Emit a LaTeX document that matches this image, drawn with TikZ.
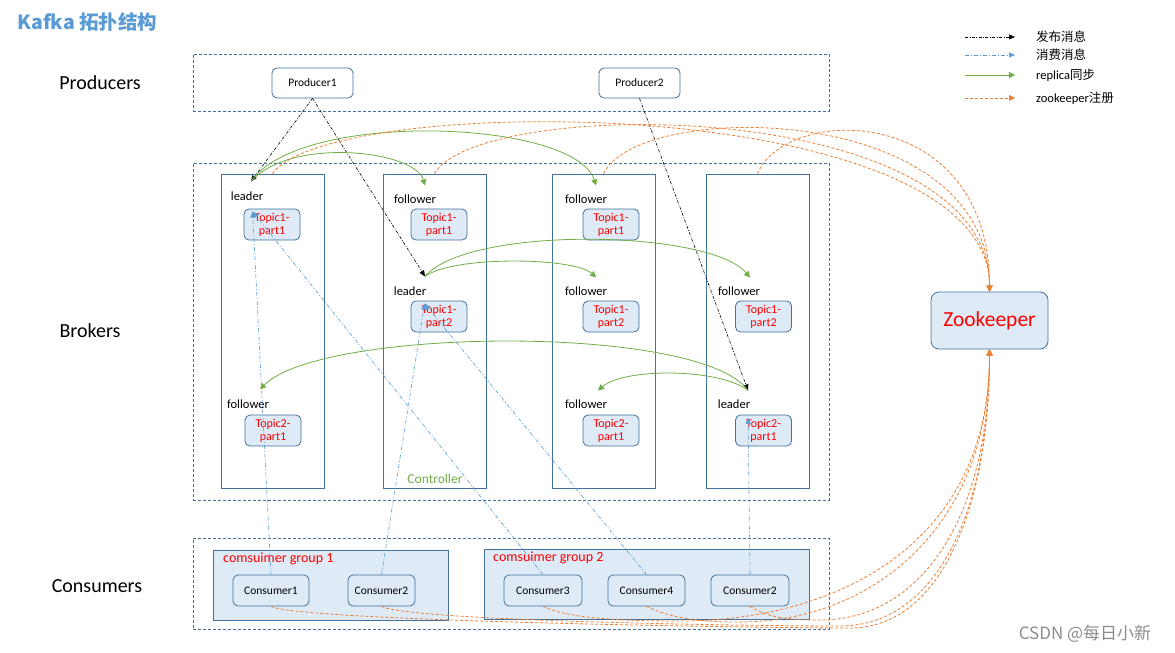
\documentclass[tikz,border=0pt]{standalone}
\usepackage{fontspec}
\setmainfont{Carlito}
\newfontfamily\cjk{Noto Sans CJK SC}
\usepackage{xcolor}
\usepackage{tikz}
\usetikzlibrary{arrows.meta}
\definecolor{lineblue}{HTML}{41719C}
\definecolor{boxfill}{HTML}{DEEBF7}
\definecolor{subblue}{HTML}{5B9BD5}
\definecolor{repgreen}{HTML}{70AD47}
\definecolor{regorange}{HTML}{ED7D31}

\begin{document}
\begin{tikzpicture}[x=1pt,y=-1pt,
  groupbox/.style={draw=lineblue,line width=0.7pt,dash pattern=on 3pt off 2pt,minimum width=636},
  brokerbox/.style={draw=lineblue,line width=0.9pt,minimum width=103,minimum height=314},
  topicbox/.style={draw=lineblue,fill=boxfill,line width=0.8pt,rounded corners=5pt,minimum width=56,minimum height=31,inner sep=0pt,align=center,text=red,font=\fontsize{12}{13}\selectfont},
  rolelabel/.style={inner sep=1pt,font=\fontsize{12.5}{14}\selectfont},
  prodbox/.style={draw=lineblue,fill=white,line width=0.8pt,rounded corners=5pt,minimum width=81,minimum height=30,font=\fontsize{11.5}{13}\selectfont},
  consbox/.style={draw=lineblue,fill=boxfill,line width=0.8pt,rounded corners=5pt,minimum height=31,font=\fontsize{11.5}{13}\selectfont},
  sectlabel/.style={font=\fontsize{20}{23}\selectfont},
  legendtext/.style={anchor=west,inner sep=1pt,font=\fontsize{12.5}{14}\selectfont},
  pub/.style={black,line width=0.6pt,dash pattern=on 3pt off 1.5pt on 0.8pt off 1.5pt,-{Triangle[length=6pt,width=5pt]}},
  sub/.style={subblue,line width=0.6pt,dash pattern=on 4pt off 2pt on 1pt off 2pt,-{Triangle[length=6pt,width=5pt]}},
  rep/.style={repgreen,line width=0.8pt,-{Triangle[length=6pt,width=6pt]}},
  reg/.style={regorange,line width=0.8pt,dash pattern=on 3pt off 2pt,-{Triangle[length=6pt,width=6pt]}}]
\useasboundingbox (0,0) rectangle (1175,653);

\node[anchor=west,text=subblue,font=\cjk\bfseries\fontsize{19.5}{21}\selectfont] (title) at (14,22) {Kafka 拓扑结构};

\node[legendtext] (lt1) at (1035,37) {\cjk 发布消息};
\node[legendtext] (lt2) at (1035,55) {\cjk 消费消息};
\node[legendtext] (lt3) at (1035,75) {replica{\cjk 同步}};
\node[legendtext] (lt4) at (1035,98) {zookeeper{\cjk 注册}};
\draw[pub] ([xshift=-70pt]lt1.west) -- ([xshift=-20pt]lt1.west);
\draw[sub] ([xshift=-70pt]lt2.west) -- ([xshift=-20pt]lt2.west);
\draw[rep] ([xshift=-70pt]lt3.west) -- ([xshift=-20pt]lt3.west);
\draw[reg] ([xshift=-70pt]lt4.west) -- ([xshift=-20pt]lt4.west);

\node[sectlabel] (lprod) at (100,83) {Producers};
\node[sectlabel] (lbrok) at (90,331) {Brokers};
\node[sectlabel] (lcons) at (97,586) {Consumers};

\node[groupbox,minimum height=57] (prods) at (511,82.5) {};
\node[groupbox,minimum height=337] (broks) at (511,331.5) {};
\node[groupbox,minimum height=91] (conss) at (511,583.5) {};

\node[prodbox] (pr1) at (312.5,83) {Producer1};
\node[prodbox] (pr2) at (639.5,83) {Producer2};

\node[brokerbox] (b1) at (272.5,331) {};
\node[brokerbox] (b2) at (434.5,331) {};
\node[brokerbox] (b3) at (603.5,331) {};
\node[brokerbox] (b4) at (757.5,331) {};

\node[rolelabel] (b1lead) at (247,196) {leader};
\node[topicbox] (b1t1p1) at (272,224.5) {Topic1-\\part1};
\node[rolelabel] (b1foll) at (248,404) {follower};
\node[topicbox] (b1t2p1) at (273,430.5) {Topic2-\\part1};

\node[rolelabel] (b2foll) at (415,199) {follower};
\node[topicbox] (b2t1p1) at (439,224.5) {Topic1-\\part1};
\node[rolelabel] (b2lead) at (410,291) {leader};
\node[topicbox] (b2t1p2) at (439,316.5) {Topic1-\\part2};
\node[text=repgreen,font=\fontsize{13.5}{15}\selectfont] (ctrl) at (435,479) {Controller};

\node[rolelabel] (b3fa) at (586,199) {follower};
\node[topicbox] (b3t1p1) at (611,224.5) {Topic1-\\part1};
\node[rolelabel] (b3fb) at (586,291) {follower};
\node[topicbox] (b3t1p2) at (611,316.5) {Topic1-\\part2};
\node[rolelabel] (b3fc) at (586,404) {follower};
\node[topicbox] (b3t2p1) at (611,430.5) {Topic2-\\part1};

\node[rolelabel] (b4foll) at (739,291) {follower};
\node[topicbox] (b4t1p2) at (763.5,316.5) {Topic1-\\part2};
\node[rolelabel] (b4lead) at (734,404) {leader};
\node[topicbox] (b4t2p1) at (763.5,430.5) {Topic2-\\part1};

\node[draw=lineblue,fill=boxfill,line width=0.8pt,rounded corners=8pt,minimum width=117,minimum height=57,text=red,font=\fontsize{21.5}{25}\selectfont] (zk) at (989.5,320.5) {Zookeeper};

\node[draw=lineblue,fill=boxfill,line width=0.8pt,minimum width=235,minimum height=70] (g1) at (330.5,585) {};
\node[anchor=west,inner sep=1pt,text=red,font=\fontsize{14}{16}\selectfont] (g1l) at (222,559) {comsuimer group 1};
\node[draw=lineblue,fill=boxfill,line width=0.8pt,minimum width=325,minimum height=70] (g2) at (646.5,584) {};
\node[anchor=west,inner sep=1pt,text=red,font=\fontsize{14}{16}\selectfont] (g2l) at (492,558) {comsuimer group 2};

\node[consbox,minimum width=76] (cs1) at (271,590.5) {Consumer1};
\node[consbox,minimum width=67] (cs2) at (381.5,590.5) {Consumer2};
\node[consbox,minimum width=78] (cs3) at (543,590.5) {Consumer3};
\node[consbox,minimum width=77] (cs4) at (646.5,590.5) {Consumer4};
\node[consbox,minimum width=78] (cs5) at (750,590.5) {Consumer2};

\node[text=black!45,font=\cjk\fontsize{17}{19}\selectfont] (mark) at (1085,634) {CSDN @每日小新};

\draw[pub] (pr1.south) -- ([xshift=4pt,yshift=9pt]b1lead.north);
\draw[pub] (pr1.south) -- ([xshift=15pt,yshift=9pt]b2lead.north);
\draw[pub] (pr2.south) -- ([xshift=14pt,yshift=8pt]b4lead.north);

\draw[rep] ([xshift=4pt,yshift=9pt]b1lead.north) .. controls +(40,-45) and +(-10,-35) .. ([xshift=10pt,yshift=8pt]b2foll.north);
\draw[rep] ([xshift=4pt,yshift=9pt]b1lead.north) .. controls +(49,-72) and +(-21,-66) .. ([xshift=10pt,yshift=8pt]b3fa.north);
\draw[rep] ([xshift=15pt,yshift=9pt]b2lead.north) .. controls +(28,-21) and +(-21,-20) .. ([xshift=10pt,yshift=8pt]b3fb.north);
\draw[rep] ([xshift=15pt,yshift=9pt]b2lead.north) .. controls +(43,-51) and +(-40,-48) .. ([xshift=11pt,yshift=8pt]b4foll.north);
\draw[rep] ([xshift=14pt,yshift=8pt]b4lead.north) .. controls +(-48,-67) and +(60,-62) .. ([xshift=12pt,yshift=9pt]b1foll.north);
\draw[rep] ([xshift=14pt,yshift=8pt]b4lead.north) .. controls +(-28,-22) and +(27,-23) .. ([xshift=12pt,yshift=8pt]b3fc.north);

\draw[sub] (cs1.north) -- ([xshift=9pt,yshift=-3pt]b1t1p1.north west);
\draw[sub] (cs3.north) -- ([xshift=9pt,yshift=-3pt]b1t1p1.north west);
\draw[sub] (cs2.north) -- ([xshift=14pt,yshift=-3pt]b2t1p2.north west);
\draw[sub] (cs4.north) -- ([xshift=14pt,yshift=-3pt]b2t1p2.north west);
\draw[sub] (cs5.north) -- ([xshift=13pt,yshift=-3pt]b4t2p1.north west);

\draw[reg] (b1.north) .. controls +(58,-82) and +(0,-200) .. (zk.north);
\draw[reg] (b2.north) .. controls +(45,-78) and +(0,-196) .. (zk.north);
\draw[reg] (b3.north) .. controls +(35,-74) and +(0,-192) .. (zk.north);
\draw[reg] (b4.north) .. controls +(30,-70) and +(0,-188) .. (zk.north);

\draw[reg] (cs1.south) .. controls +(30,15) and +(-80,0) .. (850,628) .. controls +(90,0) and +(0,160) .. (zk.south);
\draw[reg] (cs2.south) .. controls +(30,15) and +(-80,0) .. (840,626) .. controls +(95,0) and +(0,165) .. (zk.south);
\draw[reg] (cs3.south) .. controls +(25,12) and +(-60,0) .. (680,621) .. controls +(150,0) and +(0,200) .. (zk.south);
\draw[reg] (cs4.south) .. controls +(25,12) and +(-40,0) .. (740,622) .. controls +(130,0) and +(0,180) .. (zk.south);
\draw[reg] (cs5.south) .. controls +(20,12) and +(-30,0) .. (820,620) .. controls +(100,0) and +(0,170) .. (zk.south);
\end{tikzpicture}
\end{document}
